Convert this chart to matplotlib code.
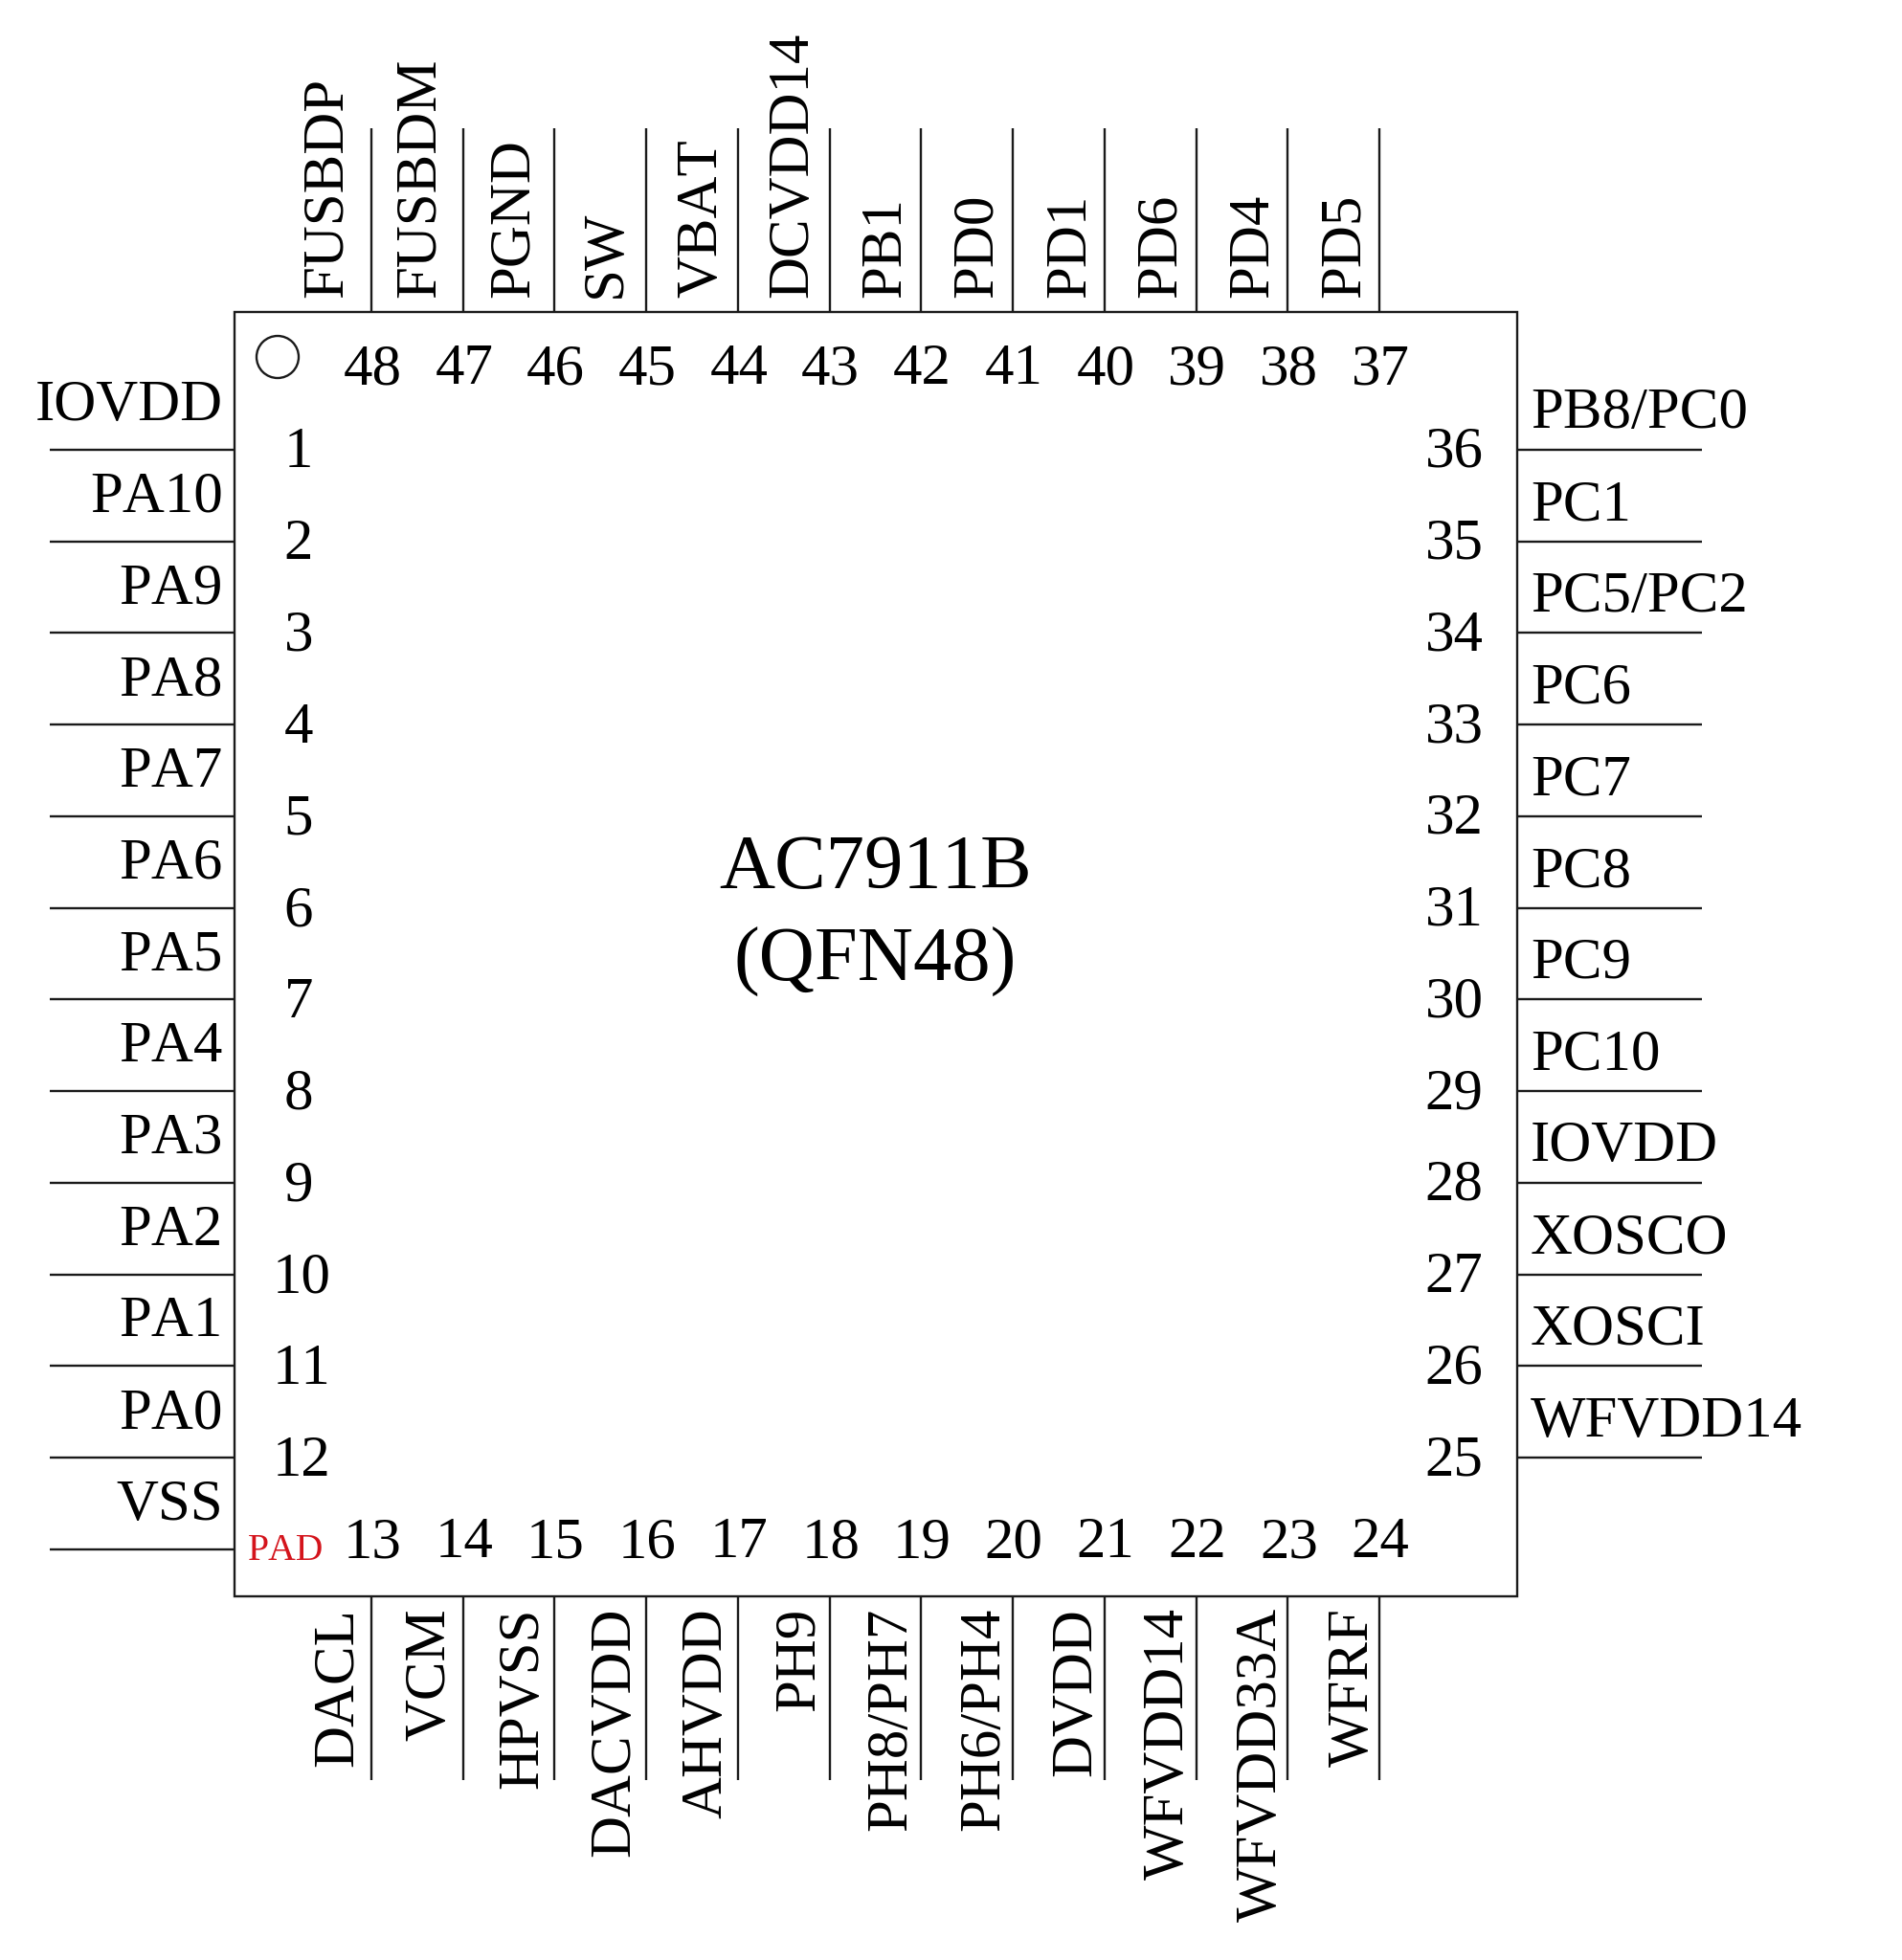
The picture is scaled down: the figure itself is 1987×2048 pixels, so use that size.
import matplotlib
matplotlib.use("Agg")
import matplotlib.pyplot as plt
from matplotlib.patches import Rectangle, Circle

plt.rcParams['font.family'] = ['Liberation Serif', 'DejaVu Serif']
plt.rcParams['text.kerning_factor'] = 16   # the reference text is set without pair kerning

CHIP = ["AC7911B", "(QFN48)"]
LEFT = ["IOVDD", "PA10", "PA9", "PA8", "PA7", "PA6", "PA5", "PA4", "PA3", "PA2", "PA1", "PA0", "VSS"]
BOTTOM = ["DACL", "VCM", "HPVSS", "DACVDD", "AHVDD", "PH9", "PH8/PH7", "PH6/PH4", "DVDD", "WFVDD14", "WFVDD33A", "WFRF"]
RIGHT = ["WFVDD14", "XOSCI", "XOSCO", "IOVDD", "PC10", "PC9", "PC8", "PC7", "PC6", "PC5/PC2", "PC1", "PB8/PC0"]
TOP = ["PD5", "PD4", "PD6", "PD1", "PD0", "PB1", "DCVDD14", "VBAT", "SW", "PGND", "FUSBDM", "FUSBDP"]
PAD = "PAD"

W, H = 1987, 2048
BOX_L, BOX_R, BOX_T, BOX_B = 244.5, 1585, 326, 1667.5
PITCH = 95.74
Y0, X0 = 470, 388
LW = 1.7
INK = '#1a1a1a'
FS = 43.8

TOP_OFF = [18, 18, 18.5, 18, 19.5, 19.5, 20, 20, 24, 25, 27, 28]

fig = plt.figure(figsize=(W/100, H/100), dpi=100)
ax = fig.add_axes([0, 0, 1, 1])
ax.set_xlim(0, W)
ax.set_ylim(H, 0)
ax.axis('off')

ax.add_patch(Rectangle((BOX_L, BOX_T), BOX_R-BOX_L, BOX_B-BOX_T, fill=False, ec=INK, lw=LW))
ax.add_patch(Circle((290, 373), 22, fill=False, ec=INK, lw=LW))

def lab(x, y, s, ha='center', rot=0, fs=FS, color='black'):
    ax.text(x, y, s, ha=ha, va='baseline', rotation=rot, rotation_mode='anchor',
            fontsize=fs, color=color)

# left side: pins 1-12 plus the VSS pad
for i, name in enumerate(LEFT):
    y = Y0 + i*PITCH
    ax.plot([52, BOX_L], [y, y], color=INK, lw=LW, solid_capstyle='butt')
    lab(233, y-31, name, ha='right')
    if i < 12:
        lab(312 + (3 if i >= 9 else 0), y+18.5, str(i+1))

# bottom side: pins 13-24
for i, name in enumerate(BOTTOM):
    x = X0 + i*PITCH
    ax.plot([x, x], [BOX_B, 1860], color=INK, lw=LW, solid_capstyle='butt')
    lab(x-20+i*0.7, 1680, name, ha='right', rot=90)
    lab(x+1, 1627, str(i+13))

# right side: pins 25-36
for i, name in enumerate(RIGHT):
    y = Y0 + (11-i)*PITCH
    ax.plot([BOX_R, 1778], [y, y], color=INK, lw=LW, solid_capstyle='butt')
    lab(1599, y-22.5, name, ha='left')
    lab(1519, y+18, str(i+25))

# top side: pins 37-48
for i, name in enumerate(TOP):
    x = X0 + (11-(i))*PITCH
    ax.plot([x, x], [134, BOX_T], color=INK, lw=LW, solid_capstyle='butt')
    lab(x-TOP_OFF[i]-3, 311, name, ha='left', rot=90)
    lab(x+1, 401, str(i+37))

lab(259, 1630, PAD, ha='left', fs=28.5, color='#d4141c')
lab(914.5, 928, CHIP[0], fs=58)
lab(914.5, 1025, CHIP[1], fs=58)

fig.savefig('out.png', dpi=100, facecolor='white')
